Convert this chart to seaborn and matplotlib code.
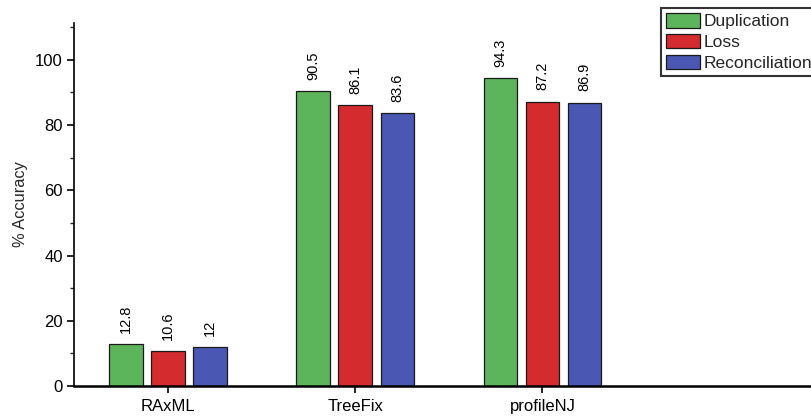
import matplotlib
matplotlib.use("Agg")
import matplotlib.pyplot as plt
import seaborn as sns
import pandas as pd
from matplotlib.ticker import MultipleLocator

methods = ["RAxML", "TreeFix", "profileNJ"]
series = ["Duplication", "Loss", "Reconciliation"]
duplication = [12.8, 90.5, 94.3]
loss = [10.6, 86.1, 87.2]
reconciliation = [12, 83.6, 86.9]
labels = [["12.8", "90.5", "94.3"], ["10.6", "86.1", "87.2"], ["12", "83.6", "86.9"]]
colors = ["#5CB55A", "#D32B2E", "#4A58B4"]

df = pd.DataFrame({
    "method": methods * 3,
    "series": [s for s in series for _ in methods],
    "value": duplication + loss + reconciliation,
})

sns.set_style("white")
plt.rcParams["font.family"] = ["Liberation Sans", "DejaVu Sans"]

fig = plt.figure(figsize=(8.12, 4.19), dpi=100)
ax = fig.add_axes([74 / 812, 1 - 386 / 419, 1 - 74 / 812, (386 - 23) / 419])

sns.barplot(data=df, x="method", y="value", hue="series", order=methods,
            hue_order=series, palette=colors, width=0.675, gap=0.2,
            edgecolor="#1a1a1a", linewidth=0.9, saturation=1, ax=ax)

for cont, labs in zip(ax.containers, labels):
    for bar, lab in zip(cont, labs):
        ax.annotate(lab, (bar.get_x() + bar.get_width() / 2, bar.get_height()),
                    xytext=(0, 8), textcoords="offset points",
                    rotation=90, ha="center", va="bottom", fontsize=10.5,
                    color="black")

ax.set_xlim(-0.503, 3.44)
ax.set_ylim(0, 111.3)
ax.yaxis.set_major_locator(MultipleLocator(20))
ax.yaxis.set_minor_locator(MultipleLocator(10))
ax.tick_params(axis="y", which="major", left=True, length=5, width=1.2,
               labelsize=12, colors="black", pad=3)
ax.tick_params(axis="y", which="minor", left=True, length=3, width=1.0)
ax.tick_params(axis="x", bottom=True, length=5, width=1.2, labelsize=12,
               colors="black", pad=4)
ax.set_xlabel("")
ax.set_ylabel("% Accuracy", fontsize=11.8, labelpad=5)

for side in ["top", "right"]:
    ax.spines[side].set_visible(False)
for side in ["left", "bottom"]:
    ax.spines[side].set_color("black")
ax.spines["left"].set_linewidth(1.2)
ax.spines["bottom"].set_linewidth(1.8)

leg = ax.legend(loc="upper left", bbox_to_anchor=(0.795, 1.041),
                borderaxespad=0, frameon=True, fancybox=False,
                fontsize=12.5, handlelength=1.95, handleheight=0.88,
                handletextpad=0.23, labelspacing=0.27, borderpad=0.3,
                edgecolor="black")
leg.get_frame().set_linewidth(1.5)
leg.set_title(None)

fig.savefig("out.png", dpi=100)
